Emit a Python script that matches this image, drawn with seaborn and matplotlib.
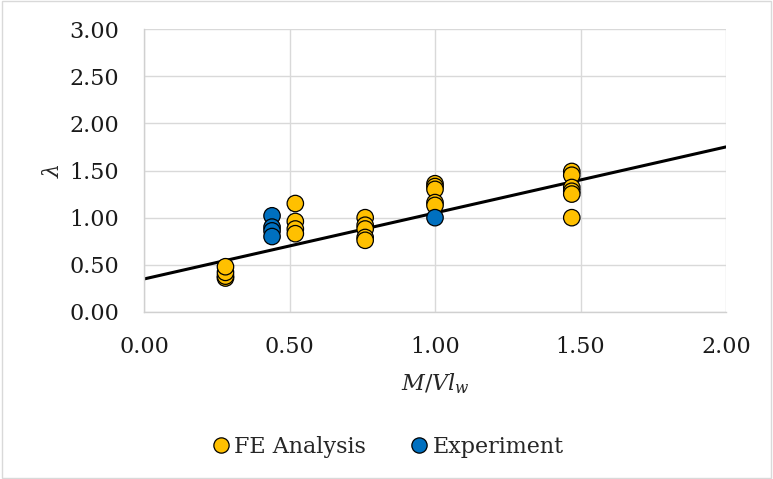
import matplotlib
matplotlib.use("Agg")
import matplotlib.pyplot as plt
from matplotlib.patches import Rectangle
import seaborn as sns
import pandas as pd

# FE analysis results: M/Vl_w ratio and normalised strength lambda
fe_x = [0.28, 0.28, 0.28, 0.28,
        0.52, 0.52, 0.52, 0.52,
        0.76, 0.76, 0.76, 0.76, 0.76,
        1.00, 1.00, 1.00, 1.00, 1.00,
        1.47, 1.47, 1.47, 1.47, 1.47, 1.47]
fe_y = [0.36, 0.38, 0.42, 0.48,
        1.15, 0.96, 0.88, 0.83,
        1.00, 0.92, 0.88, 0.79, 0.76,
        1.36, 1.33, 1.30, 1.16, 1.13,
        1.49, 1.45, 1.32, 1.28, 1.25, 1.00]

# Experimental results
exp_x = [0.44, 0.44, 0.44, 0.44, 1.00]
exp_y = [1.02, 0.90, 0.86, 0.80, 1.00]

# Design trend line end points
trend_x = [0.0, 2.0]
trend_y = [0.35, 1.75]

series_names = ["FE Analysis", "Experiment"]
series_colors = ["#FFC000", "#0070C0"]

df = pd.DataFrame({
    "x": fe_x + exp_x,
    "y": fe_y + exp_y,
    "series": [series_names[0]] * len(fe_x) + [series_names[1]] * len(exp_x),
})
trend = pd.DataFrame({"x": trend_x, "y": trend_y})

sns.set_theme(style="white")
plt.rcParams["font.family"] = ["DejaVu Serif"]
plt.rcParams["mathtext.fontset"] = "dejavuserif"

fig = plt.figure(figsize=(7.73, 4.79), dpi=100)
ax = fig.add_axes([144 / 773, 1 - 312 / 479, (726 - 144) / 773, (312 - 29) / 479])

sns.lineplot(data=trend, x="x", y="y", ax=ax, color="black", linewidth=2.2,
             zorder=2, legend=False)
sns.scatterplot(data=df, x="x", y="y", hue="series", hue_order=series_names,
                palette=series_colors, s=140, edgecolor="black", linewidth=0.9,
                ax=ax, zorder=3, legend=False)

ax.set_xlim(0, 2.0)
ax.set_ylim(0, 3.0)
ticks_x = [0.0, 0.5, 1.0, 1.5, 2.0]
ticks_y = [0.0, 0.5, 1.0, 1.5, 2.0, 2.5, 3.0]
ax.set_xticks(ticks_x)
ax.set_yticks(ticks_y)
ax.set_xticklabels([f"{t:.2f}" for t in ticks_x])
ax.set_yticklabels([f"{t:.2f}" for t in ticks_y])
ax.tick_params(axis="both", labelsize=16, colors="#1a1a1a", length=0)
ax.tick_params(axis="x", pad=17)
ax.tick_params(axis="y", pad=18)
ax.grid(True, color="#d9d9d9", linewidth=1.0)
ax.set_axisbelow(True)
for side in ["top", "right"]:
    ax.spines[side].set_visible(False)
for side in ["left", "bottom"]:
    ax.spines[side].set_color("#d0d0d0")
    ax.spines[side].set_linewidth(1.0)

ax.set_xlabel(r"$M/Vl_w$", fontsize=16, labelpad=10)
ax.set_ylabel(r"$\lambda$", fontsize=16, labelpad=4)

handles = [plt.Line2D([], [], linestyle="none", marker="o", markersize=11,
                      markerfacecolor=c, markeredgecolor="black", markeredgewidth=0.9)
           for c in series_colors]
fig.legend(handles, series_names, loc="center", bbox_to_anchor=(0.5, 1 - 447 / 479),
           ncol=2, frameon=False, fontsize=16, handletextpad=0.1,
           columnspacing=1.9, handlelength=1.0)

fig.patches.append(Rectangle((0.003, 0.003), 0.994, 0.994, transform=fig.transFigure,
                             fill=False, edgecolor="#d9d9d9", linewidth=1.0))

fig.savefig("out.png", dpi=100)
